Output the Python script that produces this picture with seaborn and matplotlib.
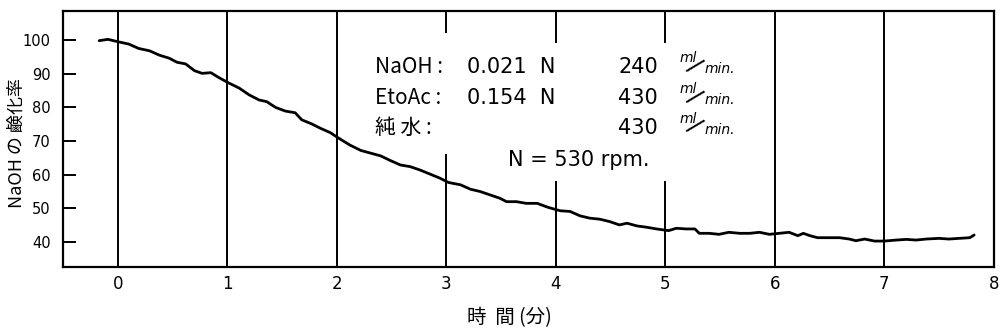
import matplotlib
matplotlib.use("Agg")
import matplotlib.pyplot as plt
from matplotlib.patches import Rectangle
import seaborn as sns
import pandas as pd

# ---- data ----
time_min = [-0.17, -0.09, 0.00, 0.10, 0.19, 0.29, 0.38, 0.47, 0.54, 0.62, 0.70, 0.77,
            0.85, 0.92, 1.01, 1.11, 1.20, 1.29, 1.36, 1.44, 1.53, 1.62, 1.68, 1.77,
            1.85, 1.94, 2.02, 2.12, 2.22, 2.31, 2.40, 2.49, 2.58, 2.67, 2.76, 2.85,
            2.94, 3.02, 3.13, 3.22, 3.31, 3.40, 3.49, 3.55, 3.64, 3.73, 3.83, 3.93,
            4.04, 4.13, 4.22, 4.31, 4.40, 4.49, 4.58, 4.65, 4.74, 4.83, 4.92, 5.03,
            5.10, 5.19, 5.27, 5.31, 5.40, 5.49, 5.58, 5.68, 5.77, 5.86, 5.95, 6.04,
            6.13, 6.21, 6.26, 6.32, 6.39, 6.50, 6.59, 6.68, 6.74, 6.82, 6.91, 7.00,
            7.11, 7.20, 7.29, 7.38, 7.50, 7.59, 7.68, 7.78, 7.82]
saponification = [99.8, 100.2, 99.5, 98.8, 97.5, 96.8, 95.5, 94.6, 93.4, 92.9, 90.9, 90.1,
                  90.3, 88.9, 87.3, 85.7, 83.7, 82.2, 81.7, 80.0, 78.9, 78.4, 76.3, 75.1,
                  73.8, 72.5, 70.8, 68.8, 67.2, 66.4, 65.6, 64.2, 62.9, 62.4, 61.4, 60.2,
                  59.0, 57.7, 57.0, 55.7, 55.0, 54.0, 53.0, 52.0, 52.0, 51.5, 51.5, 50.3,
                  49.3, 49.1, 47.8, 47.1, 46.8, 46.1, 45.1, 45.6, 44.8, 44.4, 43.9, 43.4,
                  44.1, 43.9, 43.9, 42.6, 42.6, 42.3, 42.9, 42.6, 42.6, 42.9, 42.3, 42.6,
                  42.9, 41.9, 42.6, 41.9, 41.3, 41.3, 41.3, 40.9, 40.4, 40.9, 40.3, 40.3,
                  40.6, 40.8, 40.6, 40.9, 41.1, 40.9, 41.1, 41.3, 42.1]
x_ticks = [0, 1, 2, 3, 4, 5, 6, 7, 8]
y_ticks = [40, 50, 60, 70, 80, 90, 100]

rows_label = ["NaOH :", "EtoAc :", "純 水 :"]
rows_conc = ["0.021  N", "0.154  N", ""]
rows_flow = ["240", "430", "430"]
speed_text = "N = 530 rpm."
x_label = "時  間 (分)"
y_label = "NaOH の 鹸化率"

df = pd.DataFrame({"t": time_min, "v": saponification})

sns.set_theme(style="white")
plt.rcParams["font.family"] = ["DejaVu Sans", "Noto Sans CJK JP"]
plt.rcParams["text.color"] = "black"
plt.rcParams["axes.labelcolor"] = "black"
plt.rcParams["xtick.color"] = "black"
plt.rcParams["ytick.color"] = "black"
cjk = ["Noto Sans CJK JP", "DejaVu Sans"]

fig = plt.figure(figsize=(10.02, 3.35), dpi=100)
ax = fig.add_axes([0.0629, 0.203, 0.929, 0.764])

sns.lineplot(data=df, x="t", y="v", color="black", linewidth=2.0, ax=ax, zorder=3)

ax.set_xlim(-0.5, 8.0)
ax.set_ylim(32.6, 108.6)
ax.set_xticks(x_ticks)
ax.set_yticks(y_ticks)
ax.set_xticklabels([str(v) for v in x_ticks], fontsize=12)
ax.set_yticklabels([str(v) for v in y_ticks], fontsize=10.5)
ax.tick_params(axis="x", length=0, pad=6, colors="black")
ax.tick_params(axis="y", direction="in", length=9.5, width=1.4, pad=9, colors="black", left=True)
ax.set_xlabel("")
ax.set_ylabel("")

ax.set_axisbelow(True)
ax.grid(axis="x", color="black", linewidth=1.4)
ax.grid(axis="y", visible=False)
for s in ax.spines.values():
    s.set_color("black")
    s.set_linewidth(1.6)

# gaps in the vertical rulings behind the note
ax.add_patch(Rectangle((2.8, 66.2), 0.4, 36.0, facecolor="white", edgecolor="none", zorder=1))
ax.add_patch(Rectangle((3.8, 58.0), 1.4, 41.0, facecolor="white", edgecolor="none", zorder=1))

line_v = [92.0, 82.8, 73.9]
for lab, conc, flow, v in zip(rows_label, rows_conc, rows_flow, line_v):
    ax.text(2.35, v, lab, fontsize=15, va="center", ha="left", family=cjk, zorder=4)
    ax.text(3.19, v, conc, fontsize=15, va="center", ha="left", zorder=4)
    ax.text(4.57, v, flow, fontsize=15, va="center", ha="left", zorder=4)
    ax.text(5.21, v + 2.6, "ml", fontsize=10, style="italic", va="center", ha="center", zorder=4)
    ax.text(5.27, v + 0.5, "/", fontsize=18, va="center", ha="center", zorder=4,
            rotation=-42)
    ax.text(5.50, v - 0.6, "min.", fontsize=10, style="italic", va="center", ha="center", zorder=4)
ax.text(3.56, 64.4, speed_text, fontsize=15, va="center", ha="left", zorder=4)

fig.text(0.508, 1 - 318 / 335, x_label, fontsize=14, ha="center", va="center", family=cjk)
fig.text(17 / 1002, 1 - 143 / 335, y_label, fontsize=13, ha="center", va="center",
         rotation=90, family=cjk)

fig.savefig("out.png", dpi=100)
